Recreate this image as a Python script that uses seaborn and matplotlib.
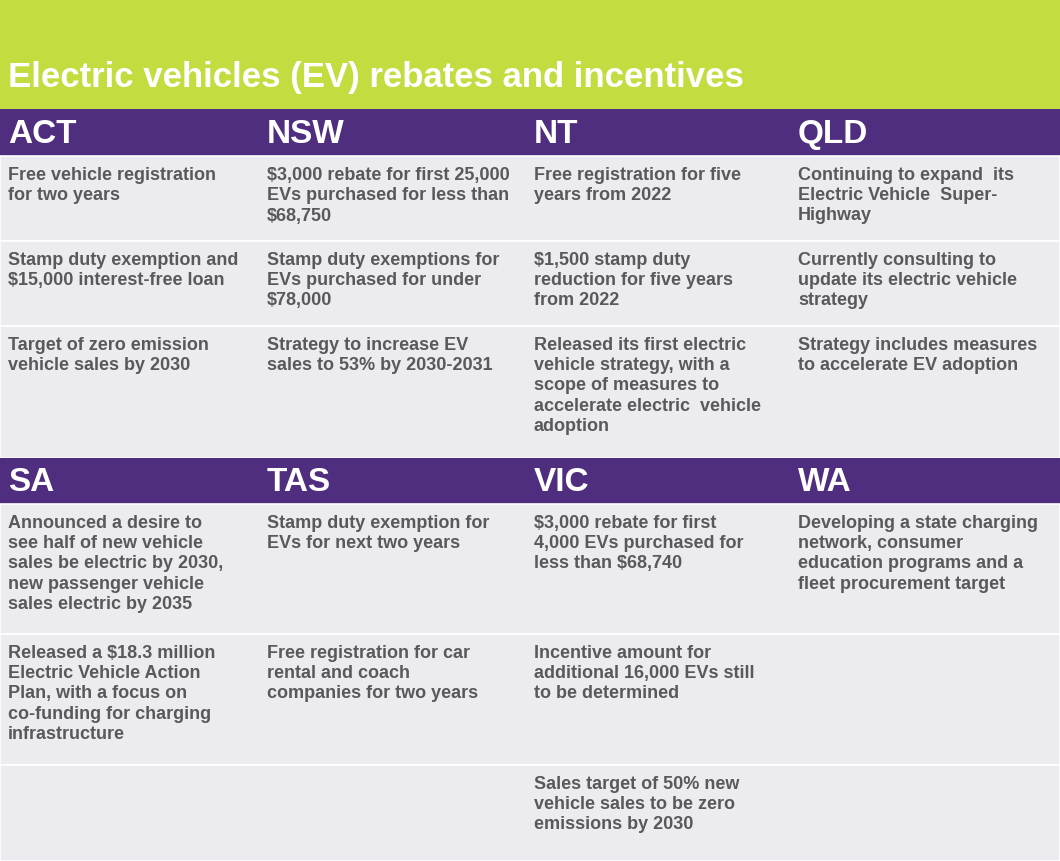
import matplotlib.pyplot as plt
import seaborn as sns

sns.set_style("white")

title = "Electric vehicles (EV) rebates and incentives"

states_top = ["ACT", "NSW", "NT", "QLD"]
states_bottom = ["SA", "TAS", "VIC", "WA"]

cells_top = [
    ["Free vehicle registration\nfor two years",
     "$3,000 rebate for first 25,000\nEVs purchased for less than\n$68,750",
     "Free registration for five\nyears from 2022",
     "Continuing to expand  its\nElectric Vehicle  Super-\nHighway"],
    ["Stamp duty exemption and\n$15,000 interest-free loan",
     "Stamp duty exemptions for\nEVs purchased for under\n$78,000",
     "$1,500 stamp duty\nreduction for five years\nfrom 2022",
     "Currently consulting to\nupdate its electric vehicle\nstrategy"],
    ["Target of zero emission\nvehicle sales by 2030",
     "Strategy to increase EV\nsales to 53% by 2030-2031",
     "Released its first electric\nvehicle strategy, with a\nscope of measures to\naccelerate electric  vehicle\nadoption",
     "Strategy includes measures\nto accelerate EV adoption"],
]
cells_bottom = [
    ["Announced a desire to\nsee half of new vehicle\nsales be electric by 2030,\nnew passenger vehicle\nsales electric by 2035",
     "Stamp duty exemption for\nEVs for next two years",
     "$3,000 rebate for first\n4,000 EVs purchased for\nless than $68,740",
     "Developing a state charging\nnetwork, consumer\neducation programs and a\nfleet procurement target"],
    ["Released a $18.3 million\nElectric Vehicle Action\nPlan, with a focus on\nco-funding for charging\ninfrastructure",
     "Free registration for car\nrental and coach\ncompanies for two years",
     "Incentive amount for\nadditional 16,000 EVs still\nto be determined",
     ""],
    ["", "", "Sales target of 50% new\nvehicle sales to be zero\nemissions by 2030", ""],
]

# layout in pixels
W, H = 1060, 862
col_x = [8, 267, 534, 798]
green, purple, bg, grey = "#c3dc40", "#4f2d7f", "#ecebf0", "#595959"
blocks = [
    (110, 157, [157, 242, 327, 459], states_top, cells_top),
    (459, 505, [505, 635, 766, 862], states_bottom, cells_bottom),
]
font = "Liberation Sans"

fig = plt.figure(figsize=(W / 100, H / 100), dpi=100)
ax = fig.add_axes([0, 0, 1, 1])
ax.set_xlim(0, W)
ax.set_ylim(H, 0)
ax.axis("off")

ax.add_patch(plt.Rectangle((0, 0), W, 110, color=green, lw=0))
ax.text(8, 78, title, color="white", fontsize=25, fontweight="bold",
        family=font, va="center")

for h_top, h_bot, rows, states, cells in blocks:
    ax.add_patch(plt.Rectangle((0, h_top), W, h_bot - h_top, color=purple, lw=0))
    for x, s in zip(col_x, states):
        ax.text(x, (h_top + h_bot) / 2 + 1, s, color="white", fontsize=24,
                fontweight="bold", family=font, va="center")
    for i in range(len(rows) - 1):
        y0, y1 = rows[i], rows[i + 1]
        ax.add_patch(plt.Rectangle((0, y0), W, y1 - y0, facecolor=bg,
                                   edgecolor="white", lw=1.2))
        for x, t in zip(col_x, cells[i]):
            ax.text(x, y0 + 10, t, color=grey, fontsize=13, fontweight="bold",
                    family=font, va="top", linespacing=1.25)

fig.savefig("out.png", dpi=100)
